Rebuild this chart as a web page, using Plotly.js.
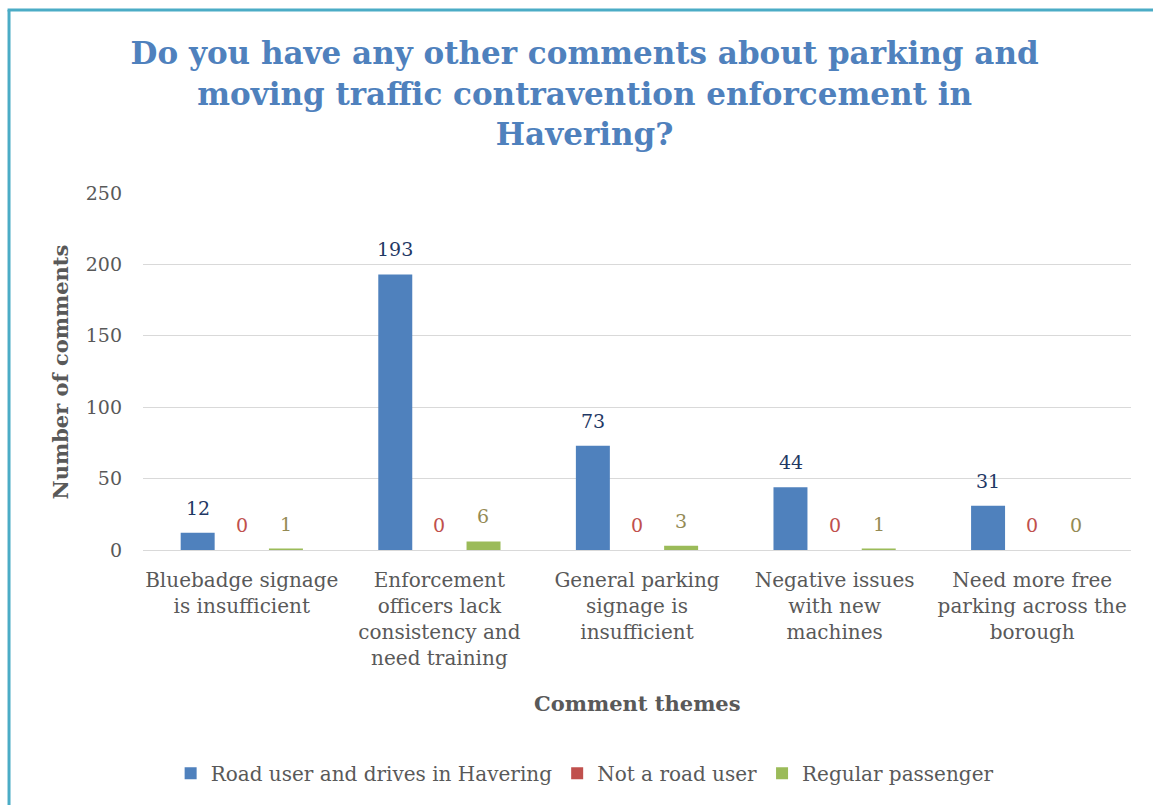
<!DOCTYPE html>
<html>
<head>
<meta charset="utf-8">
<script src="https://cdn.plot.ly/plotly-3.0.1.min.js"></script>
<style>html,body{margin:0;padding:0;background:#fff;}#chart{width:1153px;height:805px;}</style>
</head>
<body>
<div id="chart"></div>
<script>
const categories = [
  "Bluebadge signage<br>is insufficient",
  "Enforcement<br>officers lack<br>consistency and<br>need training",
  "General parking<br>signage is<br>insufficient",
  "Negative issues<br>with new<br>machines",
  "Need more free<br>parking across the<br>borough"
];
const roadUser = [12, 193, 73, 44, 31];
const notRoadUser = [0, 0, 0, 0, 0];
const regularPassenger = [1, 6, 3, 1, 0];
const seriesNames = ["Road user and drives in Havering", "Not a road user", "Regular passenger"];
const yTicks = [0, 50, 100, 150, 200, 250];

const FONT = "DejaVu Serif, Liberation Serif, serif";
const series = [
  {name: seriesNames[0], vals: roadUser, color: '#4F81BD', text: '#1F3864', shift: -44},
  {name: seriesNames[1], vals: notRoadUser, color: '#C0504D', text: '#C0504D', shift: 0},
  {name: seriesNames[2], vals: regularPassenger, color: '#9BBB59', text: '#948A54', shift: 44}
];

const data = series.map(s => ({
  type: 'bar', name: s.name, x: categories, y: s.vals,
  marker: {color: s.color}, hoverinfo: 'skip'
}));

const labelAnnotations = [];
series.forEach(s => {
  s.vals.forEach((v, i) => {
    labelAnnotations.push({
      x: categories[i], y: v, xref: 'x', yref: 'y', text: String(v), showarrow: false,
      xanchor: 'center', yanchor: 'middle', xshift: s.shift, yshift: 25,
      font: {family: FONT, size: 19, color: s.text}
    });
  });
});

const layout = {
  width: 1153, height: 805,
  margin: {l: 143, r: 22, t: 193, b: 255},
  paper_bgcolor: '#fff', plot_bgcolor: '#fff',
  font: {family: FONT, color: '#595959', size: 20},
  title: {
    text: "Do you have any other comments about parking and<br>moving traffic contravention enforcement in<br>Havering?",
    font: {family: FONT, size: 31, color: '#4F81BD', weight: 'bold'},
    x: 0.507, xanchor: 'center', y: 0.92, yanchor: 'top'
  },
  barmode: 'group', bargap: 0.33, bargroupgap: 0.23,
  showlegend: true,
  legend: {orientation: 'h', x: 0.447, xanchor: 'center', y: -0.625, yanchor: 'middle',
    font: {family: FONT, size: 20, color: '#595959'}, itemwidth: 30, traceorder: 'normal'},
  xaxis: {
    type: 'category', showgrid: false, zeroline: false,
    showline: true, linecolor: '#D9D9D9', linewidth: 1,
    ticks: '', tickfont: {family: FONT, size: 20, color: '#595959'}, ticklabelstandoff: 12
  },
  yaxis: {
    range: [0, 250], tickvals: yTicks, ticktext: yTicks.map(String),
    showgrid: true, gridcolor: '#D9D9D9', gridwidth: 1,
    zeroline: false, showline: false, ticks: '',
    tickfont: {family: FONT, size: 19, color: '#595959'}, ticklabelstandoff: 20
  },
  annotations: labelAnnotations.concat([
    {text: 'Number of comments', xref: 'paper', yref: 'paper', x: -0.083, y: 0.5,
     xanchor: 'center', yanchor: 'middle', textangle: -90, showarrow: false,
     font: {family: FONT, size: 21, color: '#595959', weight: 'bold'}},
    {text: 'Comment themes', xref: 'paper', yref: 'paper', x: 0.5, y: -0.429,
     xanchor: 'center', yanchor: 'middle', showarrow: false,
     font: {family: FONT, size: 21, color: '#595959', weight: 'bold'}}
  ]),
  shapes: [
    {type: 'line', xref: 'paper', yref: 'paper', x0: -0.1356, x1: -0.1356, y0: 1.5126, y1: -0.72,
     line: {color: '#4BACC6', width: 3}},
    {type: 'line', xref: 'paper', yref: 'paper', x0: -0.1371, x1: 1.03, y0: 1.5126, y1: 1.5126,
     line: {color: '#4BACC6', width: 3}}
  ]
};

Plotly.newPlot('chart', data, layout, {displayModeBar: false, staticPlot: true});
</script>
</body>
</html>
